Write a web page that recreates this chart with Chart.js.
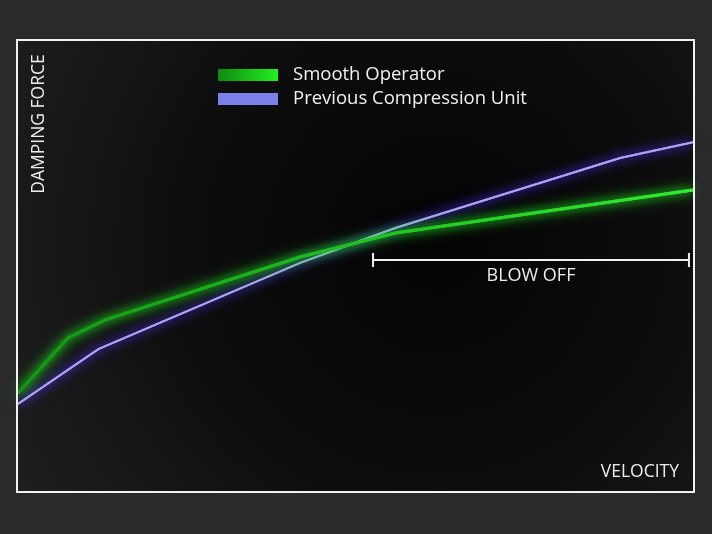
<!DOCTYPE html>
<html>
<head>
<meta charset="utf-8">
<script src="https://cdn.jsdelivr.net/npm/chart.js@4/dist/chart.umd.min.js"></script>
<style>
  html, body { margin: 0; padding: 0; background: #2a2a2a; }
  #wrap { width: 712px; height: 534px; }
</style>
</head>
<body>
<div id="wrap"><canvas id="dampChart" width="712" height="534"></canvas></div>
<script>
// Données (échelle arbitraire 0-100)
const seriesNames = ['Smooth Operator', 'Previous Compression Unit'];
const smoothX = [0, 7.4, 12.9, 41.8, 55.9, 100];
const smoothY = [21.9, 34.1, 38.1, 52.0, 57.3, 66.8];
const previousX = [0, 11.9, 41.8, 55.9, 89.2, 100];
const previousY = [19.5, 31.6, 50.7, 58.4, 73.9, 77.4];

// Zone "blow off" (début, fin, niveau)
const blowOffX = [52.6, 99.4];
const blowOffY = 51.3;
const blowOffLabel = 'BLOW OFF';

const axisLabels = { x: 'VELOCITY', y: 'DAMPING FORCE' };

function toPoints(xs, ys) {
    return xs.map((x, i) => ({ x: x, y: ys[i] }));
}

// dégradé vert pour la courbe
function greenGradient(context) {
    const chart = context.chart;
    const area = chart.chartArea;
    if (!area) return '#22cc22';
    const g = chart.ctx.createLinearGradient(area.left, 0, area.right, 0);
    g.addColorStop(0, '#139413');
    g.addColorStop(0.5, '#1fbf1f');
    g.addColorStop(1, '#30ec30');
    return g;
}

// fond + cadre
const backgroundPlugin = {
    id: 'backgroundPlugin',
    beforeDraw(chart) {
        const { ctx, chartArea: a } = chart;
        ctx.save();
        const g = ctx.createRadialGradient(a.left + a.width * 0.62, a.top + a.height * 0.45, 20,
                                           a.left + a.width * 0.62, a.top + a.height * 0.45, a.width * 0.75);
        g.addColorStop(0, '#040404');
        g.addColorStop(0.5, '#0e0e0e');
        g.addColorStop(1, '#202020');
        ctx.fillStyle = g;
        ctx.fillRect(a.left, a.top, a.width, a.height);
        ctx.restore();
    },
    afterDraw(chart) {
        const { ctx, chartArea: a } = chart;
        ctx.save();
        ctx.strokeStyle = '#f2f2f2';
        ctx.lineWidth = 2;
        ctx.strokeRect(a.left - 1, a.top, a.width + 2, a.height);
        ctx.restore();
    }
};

// halo lumineux autour des courbes (deux passes)
const glowPlugin = {
    id: 'glowPlugin',
    beforeDatasetDraw(chart, args) {
        const ctx = chart.ctx;
        ctx.save();
        ctx.shadowColor = args.index === 0 ? 'rgba(30, 230, 30, 1)' : 'rgba(80, 50, 245, 1)';
        ctx.shadowBlur = 14;
        // passe supplémentaire pour renforcer le halo
        args.meta.dataset.draw(ctx, chart.chartArea);
        ctx.shadowBlur = 8;
    },
    afterDatasetDraw(chart) {
        chart.ctx.restore();
    }
};

// légende, titres d'axes et marque "blow off"
const labelsPlugin = {
    id: 'labelsPlugin',
    afterDatasetsDraw(chart) {
        const { ctx, chartArea: a, scales } = chart;
        ctx.save();
        ctx.fillStyle = '#ececec';
        ctx.font = '17.5px "Open Sans", sans-serif';

        // titre axe Y
        ctx.save();
        ctx.translate(a.left + 21, a.top + 84);
        ctx.rotate(-Math.PI / 2);
        ctx.textAlign = 'center';
        ctx.textBaseline = 'middle';
        ctx.fillText(axisLabels.y, 0, 0);
        ctx.restore();

        // titre axe X
        ctx.textAlign = 'right';
        ctx.textBaseline = 'middle';
        ctx.fillText(axisLabels.x, a.right - 14, a.bottom - 20);

        // légende
        const lx = a.left + 200;
        const ly = [a.top + 35, a.top + 59];
        const lg = ctx.createLinearGradient(lx, 0, lx + 60, 0);
        lg.addColorStop(0, '#0f8a0f');
        lg.addColorStop(1, '#22f022');
        ctx.fillStyle = lg;
        ctx.fillRect(lx, ly[0] - 6, 60, 12);
        ctx.fillStyle = '#7b80ea';
        ctx.fillRect(lx, ly[1] - 6, 60, 12);
        ctx.fillStyle = '#f0f0f0';
        ctx.font = '18.5px "Open Sans", sans-serif';
        ctx.textAlign = 'left';
        seriesNames.forEach((name, i) => ctx.fillText(name, lx + 75, ly[i]));

        // blow off
        const x0 = scales.x.getPixelForValue(blowOffX[0]);
        const x1 = scales.x.getPixelForValue(blowOffX[1]);
        const yb = scales.y.getPixelForValue(blowOffY);
        ctx.strokeStyle = '#f0f0f0';
        ctx.lineWidth = 2;
        ctx.beginPath();
        ctx.moveTo(x0, yb); ctx.lineTo(x1, yb);
        ctx.moveTo(x0, yb - 7); ctx.lineTo(x0, yb + 7);
        ctx.moveTo(x1, yb - 7); ctx.lineTo(x1, yb + 7);
        ctx.stroke();
        ctx.fillStyle = '#ececec';
        ctx.font = '18px "Open Sans", sans-serif';
        ctx.textAlign = 'center';
        ctx.fillText(blowOffLabel, (x0 + x1) / 2, yb + 16);
        ctx.restore();
    }
};

const ctx = document.getElementById('dampChart').getContext('2d');
const dampChart = new Chart(ctx, {
    type: 'line',
    data: {
        datasets: [{
            label: seriesNames[0],
            data: toPoints(smoothX, smoothY),
            borderColor: greenGradient,
            borderWidth: 3,
            pointRadius: 0,
            tension: 0
        }, {
            label: seriesNames[1],
            data: toPoints(previousX, previousY),
            borderColor: '#aba2f4',
            borderWidth: 2,
            pointRadius: 0,
            tension: 0
        }]
    },
    options: {
        responsive: false,
        animation: false,
        devicePixelRatio: 1,
        layout: { padding: { left: 18, top: 40, right: 19, bottom: 42 } },
        scales: {
            x: { type: 'linear', min: 0, max: 100, display: false },
            y: { type: 'linear', min: 0, max: 100, display: false }
        },
        plugins: {
            legend: { display: false },
            tooltip: { enabled: false }
        }
    },
    plugins: [backgroundPlugin, glowPlugin, labelsPlugin]
});
</script>
</body>
</html>
